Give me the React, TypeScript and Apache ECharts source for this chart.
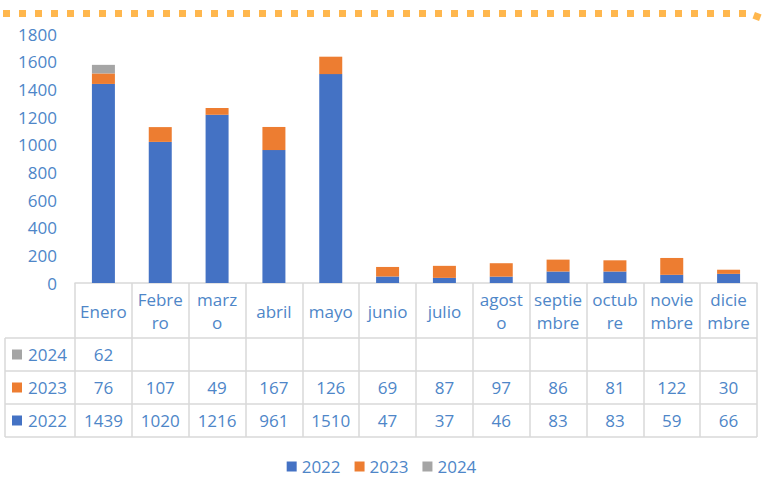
import React, { useEffect, useRef } from "react";
import * as echarts from "echarts";

const monthLabels = [
  "Enero", "Febre\nro", "marz\no", "abril", "mayo", "junio",
  "julio", "agost\no", "septie\nmbre", "octub\nre", "novie\nmbre", "dicie\nmbre",
];
const seriesNames = ["2022", "2023", "2024"];
const seriesColors = ["#4472C4", "#ED7D31", "#A5A5A5"];
const values2022 = [1439, 1020, 1216, 961, 1510, 47, 37, 46, 83, 83, 59, 66];
const values2023 = [76, 107, 49, 167, 126, 69, 87, 97, 86, 81, 122, 30];
const values2024: (number | null)[] = [62, null, null, null, null, null, null, null, null, null, null, null];
const yTicks = { min: 0, max: 1800, interval: 200 };

const FONT = "'Open Sans', sans-serif";
const TEXT = "#4E86C8";
const BORDER = "#D9D9D9";

export default function App() {
  const ref = useRef<HTMLDivElement>(null);
  useEffect(() => {
    document.body.style.margin = "0";
    if (!ref.current) return;
    const chart = echarts.init(ref.current, undefined, { renderer: "svg" });
    const seriesData = [values2022, values2023, values2024];

    const gridLeft = 75;
    const gridRight = 757;
    const axisY = 283;
    const rowLines = [338, 371, 404, 437];
    const rowOrder = [2, 1, 0];

    const graphics: any[] = [];
    graphics.push({
      type: "line",
      shape: { x1: 3, y1: 13.5, x2: 748, y2: 13.5 },
      style: { stroke: "#FFB74D", lineWidth: 7, lineDash: [7, 9] },
      silent: true,
    });
    graphics.push({
      type: "rect",
      x: 757, y: 16.5, rotation: -0.35,
      shape: { x: -3.5, y: -3.5, width: 7, height: 7 },
      style: { fill: "#FFB74D" },
      silent: true,
    });
    rowLines.forEach((y) => {
      graphics.push({
        type: "line",
        shape: { x1: 5, y1: y, x2: gridRight, y2: y },
        style: { stroke: BORDER, lineWidth: 1.5 },
        silent: true,
      });
    });
    graphics.push({
      type: "line",
      shape: { x1: 5, y1: rowLines[0], x2: 5, y2: rowLines[3] },
      style: { stroke: BORDER, lineWidth: 1.5 },
      silent: true,
    });
    rowOrder.forEach((si, r) => {
      const cy = (rowLines[r] + rowLines[r + 1]) / 2;
      graphics.push({
        type: "rect",
        shape: { x: 12, y: cy - 5, width: 10, height: 10 },
        style: { fill: seriesColors[si] },
        silent: true,
      });
      graphics.push({
        type: "text",
        x: 28, y: cy,
        style: {
          text: seriesNames[si], fill: TEXT, font: `17px ${FONT}`,
          textVerticalAlign: "middle", verticalAlign: "middle",
        },
        silent: true,
      });
    });

    const rowAxes = rowOrder.map((si, r) => {
      const cy = (rowLines[r] + rowLines[r + 1]) / 2;
      const vals = seriesData[si];
      return {
        type: "category",
        gridIndex: 0,
        position: "bottom",
        offset: 0,
        data: monthLabels,
        axisLine: { show: false },
        axisTick: { show: false },
        splitLine: { show: false },
        axisLabel: {
          interval: 0,
          margin: cy - axisY,
          verticalAlign: "middle",
          color: TEXT,
          fontFamily: FONT,
          fontSize: 17,
          formatter: (_v: string, i: number) => (vals[i] == null ? "" : String(vals[i])),
        },
      };
    });

    chart.setOption({
      animation: false,
      grid: { left: gridLeft, right: 763 - gridRight, top: 34, bottom: 477 - axisY, containLabel: false },
      legend: {
        data: seriesNames,
        top: 453,
        left: "center",
        icon: "rect",
        itemWidth: 10,
        itemHeight: 10,
        itemGap: 14,
        textStyle: { color: TEXT, fontFamily: FONT, fontSize: 17 },
      },
      xAxis: [
        {
          type: "category",
          data: monthLabels,
          position: "bottom",
          axisLine: { show: true, lineStyle: { color: BORDER, width: 1.5 } },
          axisTick: { show: true, interval: 0, length: rowLines[3] - axisY, lineStyle: { color: BORDER, width: 1.5 } },
          axisLabel: {
            interval: 0,
            margin: 28,
            verticalAlign: "middle",
            lineHeight: 23,
            color: TEXT,
            fontFamily: FONT,
            fontSize: 17,
          },
        },
        ...rowAxes,
      ],
      yAxis: {
        type: "value",
        min: yTicks.min,
        max: yTicks.max,
        interval: yTicks.interval,
        axisLine: { show: false },
        axisTick: { show: false },
        splitLine: { show: false },
        axisLabel: {
          margin: 18, color: TEXT, fontFamily: FONT, fontSize: 17,
          formatter: (v: number) => String(v),
        },
      },
      series: seriesNames.map((name, i) => ({
        name,
        type: "bar",
        stack: "total",
        barWidth: 23,
        xAxisIndex: 0,
        itemStyle: { color: seriesColors[i] },
        data: seriesData[i],
      })),
      graphic: graphics,
    });
    return () => chart.dispose();
  }, []);
  return <div ref={ref} style={{ width: 763, height: 477 }} />;
}
